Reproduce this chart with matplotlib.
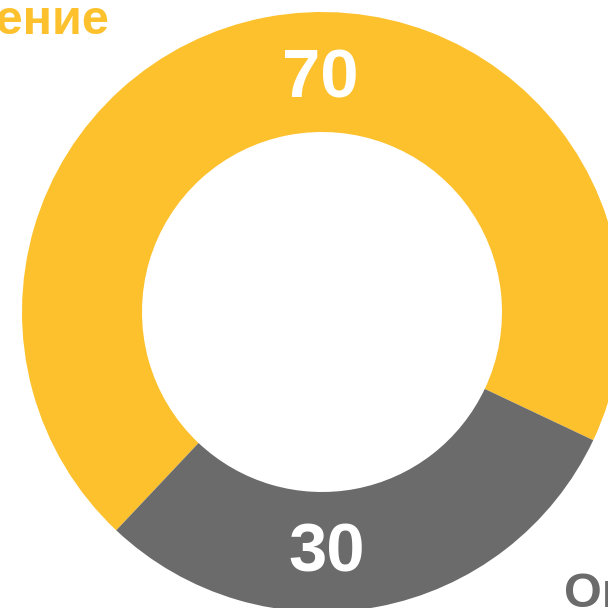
import matplotlib
matplotlib.use("Agg")
from matplotlib import pyplot as plt

labels = ["Выполнение", "Ошибки"]
values = [70, 30]
colors = ["#FDC12D", "#6B6B6B"]

plt.rcParams['font.family'] = ['Liberation Sans', 'DejaVu Sans']

fig = plt.figure(figsize=(6.08, 6.08), dpi=100)
ax = fig.add_axes([0, 0, 1, 1])

ax.pie(values, colors=colors, startangle=-25.3, counterclock=True,
       center=(322, 296), radius=300,
       wedgeprops=dict(width=120, linewidth=0))

# pie() resets the limits, so set them afterwards
ax.set_xlim(0, 608)
ax.set_ylim(0, 608)
ax.set_aspect('equal')
ax.axis('off')

# value labels
ax.text(320, 511, str(values[0]), color="white", fontsize=49.5, fontweight="bold",
        ha="center", va="baseline")
ax.text(326.5, 36, str(values[1]), color="white", fontsize=49.5, fontweight="bold",
        ha="center", va="baseline")

# category labels (partly outside the picture)
ax.text(110, 574, labels[0], color=colors[0], fontsize=35, fontweight="bold",
        ha="right", va="baseline")
ax.text(564, 1, labels[1], color=colors[1], fontsize=35, fontweight="bold",
        ha="left", va="baseline")

fig.savefig("out.png", dpi=100)
